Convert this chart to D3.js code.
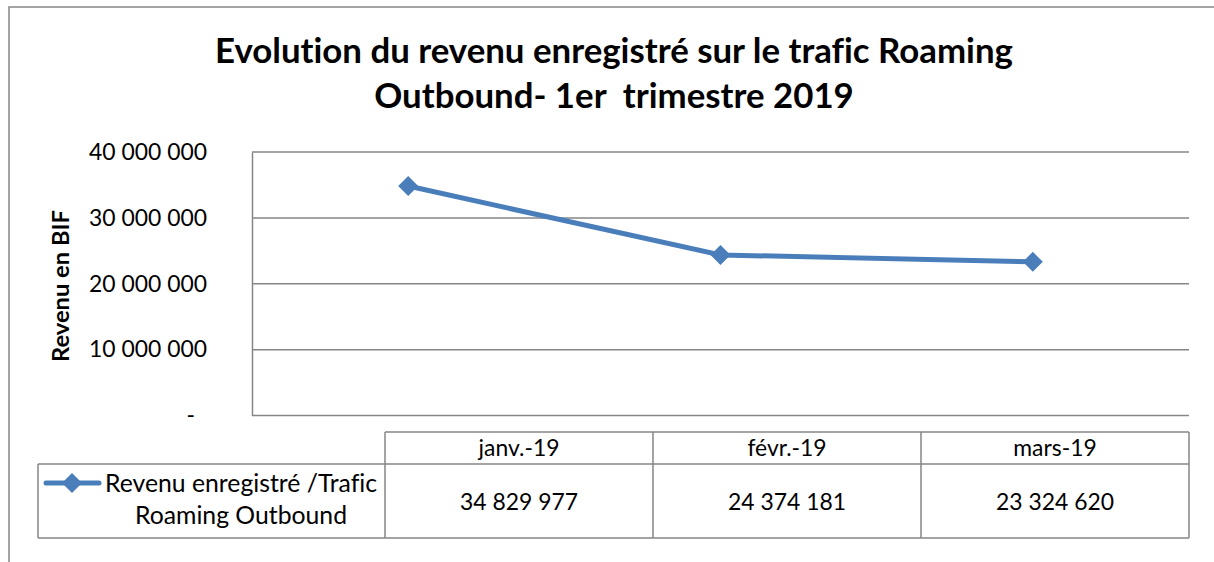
<!DOCTYPE html>
<html>
<head>
<meta charset="utf-8">
<script src="https://cdn.jsdelivr.net/npm/d3@7/dist/d3.min.js"></script>
<style>
  html, body { margin: 0; padding: 0; background: #fff; }
  svg { display: block; }
  text { font-family: Lato, "Open Sans", "Noto Sans", sans-serif; fill: #000; font-variant-ligatures: none; font-feature-settings: "liga" 0; }
</style>
</head>
<body>
<svg id="chart" width="1214" height="562"></svg>
<script>
// ---- data ----
const titleLines = ["Evolution du revenu enregistré sur le trafic Roaming", "Outbound- 1er  trimestre 2019"];
const yAxisTitle = "Revenu en BIF";
const categories = ["janv.-19", "févr.-19", "mars-19"];
const revenue = [34829977, 24374181, 23324620];
const yTicks = [0, 10000000, 20000000, 30000000, 40000000];
const seriesNameLines = ["Revenu enregistré /Trafic", "Roaming Outbound"];

// ---- setup ----
const svg = d3.select("#chart");
const locale = d3.formatLocale({ decimal: ",", thousands: " ", grouping: [3], currency: ["", ""] });
const fmt = locale.format(",d");
const tickFmt = d => d === 0 ? "-" : fmt(d);

const grey = "#868686";
const blue = "#4A7EBB";

const plot = { left: 252, right: 1189, top: 152, bottom: 415.5 };
const x = d3.scalePoint().domain(categories).range([plot.left, plot.right]).padding(0.5);
const y = d3.scaleLinear().domain([0, 40000000]).range([plot.bottom, plot.top]);

function fit(sel, target) {
  const node = sel.node();
  const w = node.getComputedTextLength();
  const fs = parseFloat(sel.style("font-size"));
  const nfs = fs * target / w;
  sel.style("font-size", nfs + "px");
  return nfs;
}

// outer border (partially clipped)
svg.append("path")
  .attr("d", "M9,562 L9,7 L1214,7")
  .attr("fill", "none").attr("stroke", grey).attr("stroke-width", 1.5);

// title
const t1 = svg.append("text").attr("x", 614).attr("y", 63).attr("text-anchor", "middle")
  .style("font-weight", "bold").style("font-size", "30px").text(titleLines[0]);
const titleSize = fit(t1, 798);
svg.append("text").attr("x", 614).attr("y", 108).attr("text-anchor", "middle")
  .style("font-weight", "bold").style("font-size", titleSize + "px").style("white-space", "pre")
  .attr("xml:space", "preserve").text(titleLines[1]);

// gridlines
svg.append("g").selectAll("line").data(yTicks.filter(d => d > 0)).join("line")
  .attr("x1", plot.left).attr("x2", plot.right)
  .attr("y1", d => y(d)).attr("y2", d => y(d))
  .attr("stroke", grey).attr("stroke-width", 1.5);

// axes
const yAxis = svg.append("g").attr("transform", `translate(${plot.left},0)`)
  .call(d3.axisLeft(y).tickValues(yTicks).tickFormat(tickFmt).tickSize(0).tickPadding(45));
yAxis.select(".domain").attr("stroke", grey).attr("stroke-width", 1.5);
yAxis.selectAll("text").style("font-family", "Lato, 'Open Sans', sans-serif").attr("fill", "#000");
const refTick = yAxis.selectAll("text").filter(d => d === 40000000);
refTick.style("font-size", "22px");
const bodySize = fit(refTick, 118);
yAxis.selectAll("text").style("font-size", bodySize + "px");
yAxis.selectAll("text").filter(d => d === 0).attr("dx", -12);

svg.append("line").attr("x1", plot.left).attr("x2", plot.right)
  .attr("y1", plot.bottom).attr("y2", plot.bottom)
  .attr("stroke", grey).attr("stroke-width", 1.5);

// y axis title
const yt = svg.append("text").attr("transform", "translate(69,286) rotate(-90)")
  .attr("text-anchor", "middle").style("font-weight", "bold").style("font-size", "22px").text(yAxisTitle);
fit(yt, 152);

// series line
svg.append("path").datum(revenue)
  .attr("d", d3.line().x((d, i) => x(categories[i])).y(d => y(d)))
  .attr("fill", "none").attr("stroke", blue).attr("stroke-width", 5)
  .attr("stroke-linejoin", "round").attr("stroke-linecap", "round");

const diamond = d3.symbol().type(d3.symbolSquare).size(200);
svg.append("g").selectAll("path").data(revenue).join("path")
  .attr("d", diamond)
  .attr("transform", (d, i) => `translate(${x(categories[i])},${y(d)}) rotate(45)`)
  .attr("fill", blue);

// data table
const tbl = { left: 385, right: 1189, headTop: 432, headBottom: 464, rowBottom: 538, legendLeft: 38 };
const col = d3.scaleBand().domain(categories).range([tbl.left, tbl.right]);
const tg = svg.append("g");
tg.append("line").attr("x1", tbl.left).attr("x2", tbl.right).attr("y1", tbl.headTop).attr("y2", tbl.headTop);
tg.append("line").attr("x1", tbl.legendLeft).attr("x2", tbl.right).attr("y1", tbl.headBottom).attr("y2", tbl.headBottom);
tg.append("line").attr("x1", tbl.legendLeft).attr("x2", tbl.right).attr("y1", tbl.rowBottom).attr("y2", tbl.rowBottom);
tg.append("line").attr("x1", tbl.legendLeft).attr("x2", tbl.legendLeft).attr("y1", tbl.headBottom).attr("y2", tbl.rowBottom);
tg.selectAll("line.v").data(categories.concat(["__end"])).join("line").attr("class", "v")
  .attr("x1", d => d === "__end" ? tbl.right : col(d)).attr("x2", d => d === "__end" ? tbl.right : col(d))
  .attr("y1", tbl.headTop).attr("y2", tbl.rowBottom);
tg.selectAll("line").attr("stroke", grey).attr("stroke-width", 1.5);

tg.selectAll("text.head").data(categories).join("text").attr("class", "head")
  .attr("x", d => col(d) + col.bandwidth() / 2).attr("y", 456)
  .attr("text-anchor", "middle").style("font-size", bodySize + "px").text(d => d);
tg.selectAll("text.val").data(revenue).join("text").attr("class", "val")
  .attr("x", (d, i) => col(categories[i]) + col.bandwidth() / 2).attr("y", 510)
  .attr("text-anchor", "middle").style("font-size", bodySize + "px").text(d => fmt(d));

// legend key in table
tg.append("line").attr("x1", 46).attr("x2", 99).attr("y1", 483).attr("y2", 483)
  .attr("stroke", blue).attr("stroke-width", 5).attr("stroke-linecap", "round");
tg.append("path").attr("d", diamond).attr("transform", "translate(72,483) rotate(45)").attr("fill", blue);
const l1 = tg.append("text").attr("x", 105).attr("y", 492).style("font-size", bodySize + "px").text(seriesNameLines[0]);
const legendSize = fit(l1, 272);
tg.append("text").attr("x", 105 + 272 / 2).attr("y", 524).attr("text-anchor", "middle")
  .style("font-size", legendSize + "px").text(seriesNameLines[1]);
</script>
</body>
</html>
